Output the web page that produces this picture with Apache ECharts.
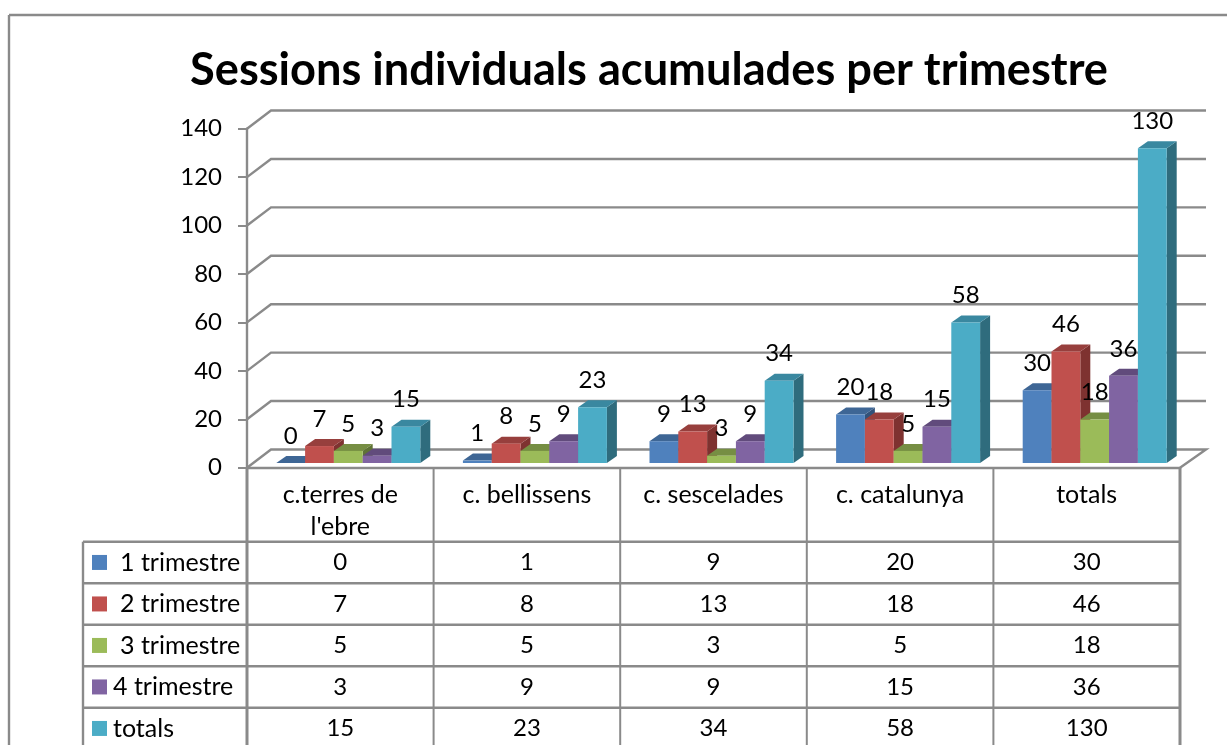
<!DOCTYPE html>
<html>
<head>
<meta charset="utf-8">
<script src="https://cdn.jsdelivr.net/npm/echarts@6/dist/echarts.min.js"></script>
<style>
html,body{margin:0;padding:0;background:#fff}
#c1{width:1227px;height:745px}
</style>
</head>
<body>
<div id="c1"></div>
<script>
var categories = ["c.terres de\nl'ebre", 'c. bellissens', 'c. sescelades', 'c. catalunya', 'totals'];
var yTicks = [0, 20, 40, 60, 80, 100, 120, 140];
var seriesNames = ['1 trimestre', '2 trimestre', '3 trimestre', '4 trimestre', 'totals'];
var trim1 = [0, 1, 9, 20, 30];
var trim2 = [7, 8, 13, 18, 46];
var trim3 = [5, 5, 3, 5, 18];
var trim4 = [3, 9, 9, 15, 36];
var totals = [15, 23, 34, 58, 130];
var allValues = [trim1, trim2, trim3, trim4, totals];

var fronts = ['#4F81BD', '#C0504D', '#9BBB59', '#8064A2', '#4BACC6'];
var tops = ['#3E6695', '#973F3D', '#768E43', '#614B7C', '#3A88A0'];
var sides = ['#32527A', '#7E3230', '#5F7336', '#4F3D66', '#2F6C7D'];

var FONT = 'Lato';
var FONT_SIZE = 24;
var NAME_SIZE = 25;
var GRAY = '#8a8a8a';
var GRID_L = 247, GRID_W = 933, GRID_T = 128.7, GRID_H = 339;
var WALL_DX = 24, WALL_DY = -18.2;     // fondo de la pared
var BAR_W = 28.8, BAR_DX = 10, BAR_DY = -7, BAR_SHIFT = 8, BAR_LIFT = 4.7;

// pared del fondo y lineas de division
function renderWall(params, api) {
   var cs = params.coordSys;
   var y = api.coord([0, api.value(0)])[1];
   var pts = [[cs.x, y], [cs.x + WALL_DX, y + WALL_DY], [cs.x + cs.width + 26, y + WALL_DY]];
   if (api.value(0) === 0) pts.push([cs.x + cs.width, y]);
   return {
      type: 'polyline',
      shape: {points: pts},
      style: {stroke: GRAY, lineWidth: 2.4, fill: null},
      z2: -1
   };
}

function makeBar(idx) {
   return function (params, api) {
      var p = api.coord([api.value(0), api.value(1)]);
      var base = api.coord([api.value(0), 0])[1] - BAR_LIFT;
      var left = p[0] + BAR_SHIFT + (idx - 2.5) * BAR_W;
      var right = left + BAR_W;
      var top = p[1] - BAR_LIFT;
      return {
         type: 'group',
         children: [
            {type: 'polygon', z2: idx,
             shape: {points: [[right, top], [right + BAR_DX, top + BAR_DY], [right + BAR_DX, base + BAR_DY], [right, base]]},
             style: {fill: sides[idx]}},
            {type: 'polygon', z2: idx,
             shape: {points: [[left, top], [left + BAR_DX, top + BAR_DY], [right + BAR_DX, top + BAR_DY], [right, top]]},
             style: {fill: tops[idx]}},
            {type: 'rect', z2: idx,
             shape: {x: left, y: top, width: BAR_W, height: base - top},
             style: {fill: fronts[idx]}},
            {type: 'text', z2: 100,
             style: {x: left + BAR_W / 2, y: top - 27, text: String(api.value(1)), fill: '#000',
                font: FONT_SIZE + 'px ' + FONT, align: 'center', verticalAlign: 'middle'}}
         ]
      };
   };
}

// tabla de datos de abajo
var COL_W = GRID_W / 5, LEG_L = 83, ROW_TOP = 541.7, ROW_H = 41.5, BOTTOM = 745;
var legendTextX = [120, 120, 120, 113, 113];
var tableEls = [];
function line(x1, y1, x2, y2, w) {
   tableEls.push({type: 'line', shape: {x1: x1, y1: y1, x2: x2, y2: y2},
      style: {stroke: GRAY, lineWidth: w || 2.4}});
}
function label(x, y, text, align, size) {
   tableEls.push({type: 'text', style: {x: x, y: y, text: text, fill: '#000',
      font: size + 'px ' + FONT, align: align, verticalAlign: 'middle'}});
}
line(9, 15, 1227, 15);
line(9, 15, 9, BOTTOM);
for (var c = 0; c <= 5; c++) {
   line(GRID_L + c * COL_W, GRID_T + GRID_H, GRID_L + c * COL_W, BOTTOM, (c === 0 || c === 5) ? 3 : 2);
}
line(LEG_L, ROW_TOP, LEG_L, BOTTOM);
for (var r = 0; r < 5; r++) {
   line(LEG_L, ROW_TOP + r * ROW_H, GRID_L + GRID_W, ROW_TOP + r * ROW_H);
   var cy = ROW_TOP + (r + 0.5) * ROW_H;
   tableEls.push({type: 'rect', shape: {x: 92, y: cy - 7.5, width: 15, height: 15}, style: {fill: fronts[r]}});
   label(legendTextX[r], cy, seriesNames[r], 'left', NAME_SIZE);
   for (c = 0; c < 5; c++) label(GRID_L + (c + 0.5) * COL_W, cy, String(allValues[r][c]), 'center', FONT_SIZE);
}

var chart = echarts.init(document.getElementById('c1'));

var series = [{
   type: 'custom',
   renderItem: renderWall,
   data: yTicks.map(function (v) { return [v]; }),
   encode: {y: 0},
   silent: true,
   clip: false
}];
allValues.forEach(function (vals, i) {
   series.push({
      name: seriesNames[i],
      type: 'custom',
      renderItem: makeBar(i),
      data: vals.map(function (v, k) { return [k, v]; }),
      encode: {x: 0, y: 1},
      clip: false
   });
});

var option = {
   animation: false,
   backgroundColor: '#fff',
   title: {
      text: 'Sessions individuals acumulades per trimestre',
      left: 644, top: 65, textAlign: 'center', textVerticalAlign: 'middle',
      textStyle: {fontFamily: FONT, fontWeight: 'bold', fontSize: 45.2, color: '#000'}
   },
   grid: {left: GRID_L, top: GRID_T, width: GRID_W, height: GRID_H},
   xAxis: {
      type: 'category',
      data: categories,
      axisLine: {lineStyle: {color: GRAY, width: 2.4}},
      axisTick: {show: false},
      axisLabel: {color: '#000', fontFamily: FONT, fontSize: NAME_SIZE, lineHeight: 32, margin: 11, interval: 0, verticalAlign: 'top'}
   },
   yAxis: {
      type: 'value', min: 0, max: 140, interval: 20,
      axisLine: {show: true, lineStyle: {color: GRAY, width: 2.4}},
      axisTick: {show: true, length: 9, lineStyle: {color: GRAY, width: 2}},
      axisLabel: {color: '#000', fontFamily: FONT, fontSize: FONT_SIZE, margin: 25},
      splitLine: {show: false}
   },
   graphic: tableEls,
   series: series
};
chart.setOption(option);
</script>
</body>
</html>
